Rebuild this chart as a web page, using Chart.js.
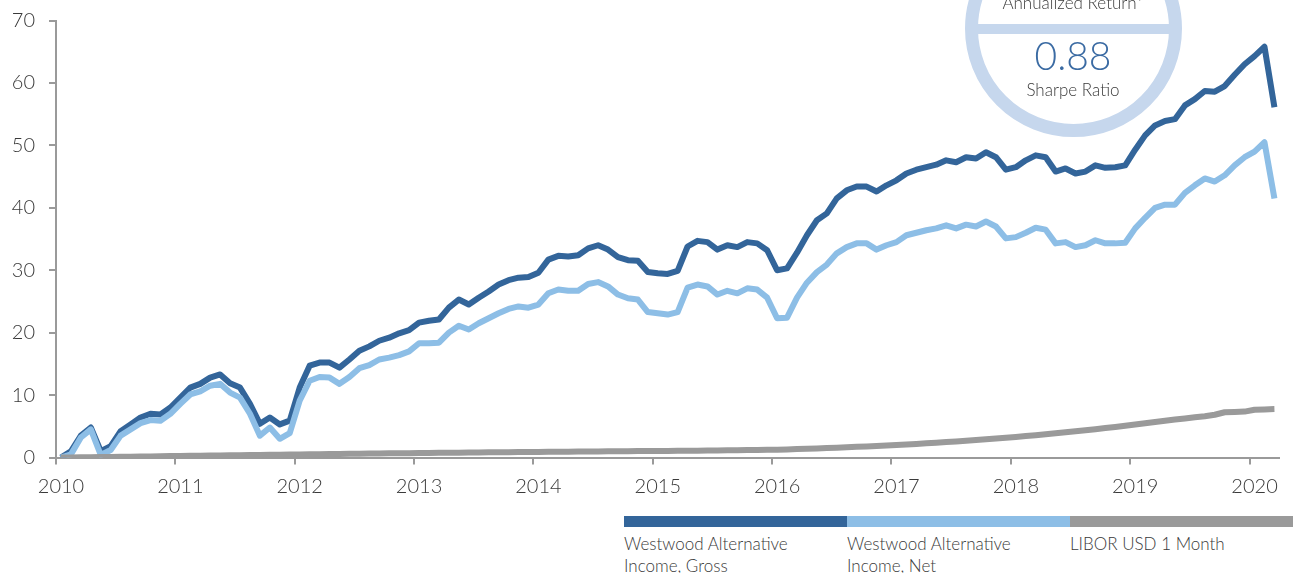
<!DOCTYPE html>
<html>
<head>
<meta charset="utf-8">
<script src="https://cdn.jsdelivr.net/npm/chart.js@4.4.1/dist/chart.umd.min.js"></script>
<style>
html,body{margin:0;padding:0;background:#fff;}
#wrap{position:relative;width:1293px;height:573px;overflow:hidden;font-family:Lato,'Open Sans',sans-serif;font-weight:300;color:#3a3a3a;}
#c{position:absolute;left:0;top:0;}
#badge{position:absolute;left:965px;top:-80px;width:217px;height:217px;box-sizing:border-box;border:13px solid #c6d7ed;border-radius:50%;}
#band{position:absolute;left:0;right:0;top:91px;height:10px;background:#c6d7ed;}
.btxt{position:absolute;left:973px;width:200px;text-align:center;white-space:nowrap;}
#ann{top:-7.5px;font-size:17px;line-height:20px;}
#val{top:35px;font-size:39px;line-height:40px;color:#3b6ba3;}
#lab{top:80px;font-size:17px;line-height:20px;}
#legend{position:absolute;left:624px;top:516px;width:669px;display:flex;}
.item{width:223px;}
.bar{height:11px;}
.lbl{font-size:17px;line-height:22px;margin-top:6px;width:195px;color:#3a3a3a;}
</style>
</head>
<body>
<div id="wrap">
  <canvas id="c" width="1293" height="500"></canvas>
  <div id="badge"><div id="band"></div></div>
  <div class="btxt" id="ann">Annualized Return*</div>
  <div class="btxt" id="val">0.88</div>
  <div class="btxt" id="lab">Sharpe Ratio</div>
  <div id="legend"></div>
</div>
<script>
// ---- data (monthly, Jan 2010 .. Mar 2020) ----
const startYear = 2010;
const seriesNames = ['Westwood Alternative Income, Gross', 'Westwood Alternative Income, Net', 'LIBOR USD 1 Month'];
const seriesColors = ['#33659a', '#8dbee6', '#9a9a9a'];

const gross = [
  0.0, 1.0, 3.5, 4.8, 1.0, 1.8, 4.2, 5.3, 6.4, 7.0, 6.9, 8.0,
  9.6, 11.2, 11.8, 12.8, 13.3, 11.9, 11.2, 8.6, 5.4, 6.4, 5.3, 5.9,
  11.2, 14.7, 15.2, 15.2, 14.4, 15.7, 17.1, 17.8, 18.7, 19.2, 19.9, 20.4,
  21.6, 21.9, 22.1, 24.0, 25.3, 24.5, 25.6, 26.6, 27.7, 28.4, 28.8, 28.9,
  29.6, 31.7, 32.3, 32.2, 32.4, 33.5, 34.0, 33.3, 32.1, 31.6, 31.5, 29.7,
  29.5, 29.4, 29.9, 33.8, 34.7, 34.5, 33.3, 34.0, 33.7, 34.5, 34.3, 33.2,
  30.0, 30.3, 32.8, 35.6, 38.0, 39.1, 41.5, 42.8, 43.4, 43.4, 42.6, 43.6,
  44.4, 45.5, 46.1, 46.5, 46.9, 47.6, 47.3, 48.1, 47.9, 48.9, 48.1, 46.1,
  46.5, 47.6, 48.4, 48.1, 45.8, 46.3, 45.5, 45.8, 46.8, 46.4, 46.5, 46.8,
  49.3, 51.6, 53.2, 53.9, 54.2, 56.4, 57.4, 58.7, 58.6, 59.5, 61.3, 63.0,
  64.3, 65.8, 56.1
];
const net = [
  0.0, 0.5, 3.2, 4.5, 0.4, 1.2, 3.5, 4.5, 5.5, 6.0, 5.9, 7.0,
  8.6, 10.1, 10.6, 11.5, 11.8, 10.4, 9.6, 7.0, 3.5, 4.8, 3.0, 3.9,
  9.1, 12.3, 12.9, 12.8, 11.8, 12.9, 14.3, 14.8, 15.7, 16.0, 16.4, 17.0,
  18.3, 18.3, 18.4, 20.0, 21.1, 20.5, 21.5, 22.3, 23.1, 23.8, 24.2, 24.0,
  24.5, 26.3, 26.9, 26.7, 26.7, 27.8, 28.1, 27.4, 26.1, 25.5, 25.3, 23.3,
  23.1, 22.9, 23.3, 27.2, 27.7, 27.4, 26.1, 26.7, 26.3, 27.1, 26.9, 25.6,
  22.3, 22.4, 25.6, 28.0, 29.7, 30.9, 32.7, 33.7, 34.3, 34.3, 33.3, 34.0,
  34.5, 35.6, 36.0, 36.4, 36.7, 37.2, 36.7, 37.3, 37.0, 37.8, 37.0, 35.1,
  35.3, 36.0, 36.8, 36.5, 34.3, 34.5, 33.7, 34.0, 34.8, 34.3, 34.3, 34.4,
  36.7, 38.4, 40.0, 40.5, 40.5, 42.4, 43.6, 44.7, 44.2, 45.2, 46.8, 48.1,
  49.0, 50.5, 41.5
];
const libor = [
  0.00, 0.02, 0.04, 0.06, 0.08, 0.10, 0.12, 0.14, 0.16, 0.18, 0.20, 0.23,
  0.25, 0.27, 0.29, 0.31, 0.33, 0.35, 0.37, 0.39, 0.41, 0.43, 0.45, 0.48,
  0.50, 0.52, 0.54, 0.56, 0.58, 0.60, 0.62, 0.63, 0.65, 0.67, 0.69, 0.70,
  0.72, 0.74, 0.75, 0.77, 0.78, 0.80, 0.81, 0.83, 0.84, 0.86, 0.87, 0.89,
  0.90, 0.91, 0.93, 0.94, 0.95, 0.96, 0.98, 0.99, 1.00, 1.01, 1.03, 1.04,
  1.05, 1.06, 1.08, 1.09, 1.10, 1.12, 1.13, 1.15, 1.17, 1.19, 1.21, 1.23,
  1.25, 1.30, 1.35, 1.40, 1.46, 1.52, 1.58, 1.64, 1.71, 1.78, 1.85, 1.92,
  2.00, 2.09, 2.18, 2.27, 2.37, 2.47, 2.58, 2.69, 2.80, 2.92, 3.04, 3.17,
  3.30, 3.44, 3.58, 3.73, 3.88, 4.04, 4.20, 4.37, 4.54, 4.72, 4.90, 5.10,
  5.30, 5.50, 5.70, 5.90, 6.08, 6.26, 6.44, 6.62, 6.85, 7.25, 7.30, 7.35,
  7.65, 7.70, 7.75
];
const xTickValues = [2010, 2011, 2012, 2013, 2014, 2015, 2016, 2017, 2018, 2019, 2020];
const xTickLabels = ['2010', '2011', '2012', '2013', '2014', '2015', '2016', '2017', '2018', '2019', '2020'];
const yTickValues = [0, 10, 20, 30, 40, 50, 60, 70];
const yTickLabels = ['0', '10', '20', '30', '40', '50', '60', '70'];

// month i is placed at the middle of its month on the time axis
function toPoints(arr) {
  return arr.map((v, i) => ({ x: startYear + (i + 0.5) / 12, y: v }));
}

const axisColor = '#9a9a9a';
const tickFont = { family: 'Lato', size: 20, weight: '300' };

const chart = new Chart(document.getElementById('c').getContext('2d'), {
  type: 'line',
  data: {
    datasets: [
      { label: seriesNames[0], data: toPoints(gross), borderColor: seriesColors[0], backgroundColor: seriesColors[0], order: 3 },
      { label: seriesNames[1], data: toPoints(net), borderColor: seriesColors[1], backgroundColor: seriesColors[1], order: 2 },
      { label: seriesNames[2], data: toPoints(libor), borderColor: seriesColors[2], backgroundColor: seriesColors[2], order: 1 }
    ]
  },
  options: {
    responsive: false,
    animation: false,
    layout: { padding: { top: 20.5, right: 13.6, left: 0, bottom: 0 } },
    elements: {
      point: { radius: 0, hoverRadius: 0 },
      line: { tension: 0, borderWidth: 6, borderJoinStyle: 'round', borderCapStyle: 'butt', fill: false }
    },
    plugins: { legend: { display: false }, tooltip: { enabled: false } },
    scales: {
      x: {
        type: 'linear', min: 2010, max: 2020.25,
        afterBuildTicks: s => { s.ticks = xTickValues.map(v => ({ value: v })); },
        afterFit: s => { s.height = 42.5; s.paddingLeft = 0; s.paddingRight = 0; },
        ticks: { callback: (v, i) => xTickLabels[i], color: '#3a3a3a', font: tickFont, padding: 10, labelOffset: 5, maxRotation: 0, autoSkip: false },
        grid: { drawOnChartArea: false, drawTicks: true, tickLength: 7, color: axisColor, lineWidth: 2 },
        border: { display: true, color: axisColor, width: 2 }
      },
      y: {
        min: 0, max: 70,
        afterBuildTicks: s => { s.ticks = yTickValues.map(v => ({ value: v })); },
        afterFit: s => { s.width = 56; s.paddingTop = 0; s.paddingBottom = 0; },
        ticks: { callback: (v, i) => yTickLabels[i], color: '#3a3a3a', font: tickFont, padding: 14, autoSkip: false },
        grid: { drawOnChartArea: false, drawTicks: true, tickLength: 7, color: axisColor, lineWidth: 2 },
        border: { display: true, color: axisColor, width: 2 }
      }
    }
  }
});

// HTML legend built from the chart's datasets
const legend = document.getElementById('legend');
chart.data.datasets.forEach(ds => {
  const item = document.createElement('div');
  item.className = 'item';
  const bar = document.createElement('div');
  bar.className = 'bar';
  bar.style.background = ds.borderColor;
  const lbl = document.createElement('div');
  lbl.className = 'lbl';
  lbl.textContent = ds.label;
  item.appendChild(bar);
  item.appendChild(lbl);
  legend.appendChild(item);
});
</script>
</body>
</html>
